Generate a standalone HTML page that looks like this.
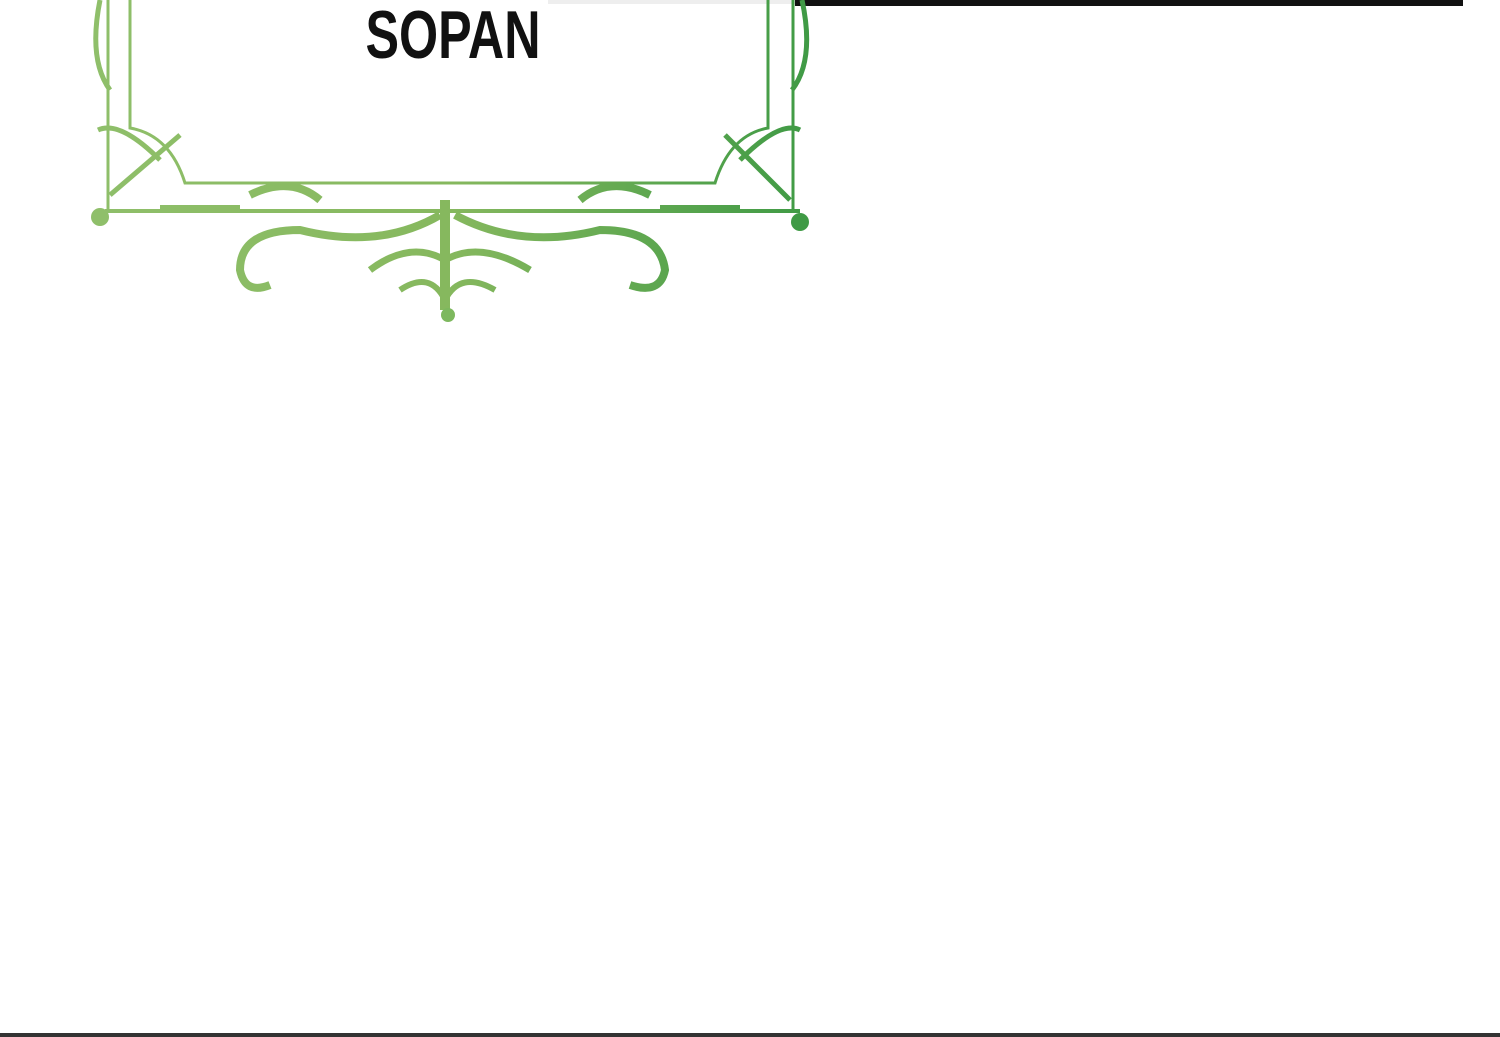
<!DOCTYPE html>
<html><head><meta charset="utf-8"><style>
html,body{margin:0;padding:0;background:#fff;width:1500px;height:1037px;overflow:hidden}
svg{display:block}
</style></head><body>
<svg width="1500" height="1037" viewBox="0 0 1500 1037" xmlns="http://www.w3.org/2000/svg">
<defs>
<linearGradient id="g" gradientUnits="userSpaceOnUse" x1="90" y1="0" x2="810" y2="0">
<stop offset="0" stop-color="#8fbf6a"/><stop offset="0.5" stop-color="#86b85e"/><stop offset="1" stop-color="#3f9a45"/>
</linearGradient>
</defs>
<rect width="1500" height="1037" fill="#fff"/>
<rect x="795" y="0" width="668" height="6" fill="#111"/>
<rect x="548" y="0" width="247" height="4" fill="#eee"/>
<rect x="0" y="1033" width="1500" height="4" fill="#333"/>
<g fill="none" stroke="url(#g)" stroke-width="3">
<path d="M108 0 V210 M793 0 V210"/>
<path d="M130 0 V128 Q170 135 185 183 H715 Q730 135 768 128 V0"/>
<path d="M105 211 H800" stroke-width="4"/>
<path d="M100 0 Q88 60 110 90 M802 0 Q815 60 792 90" stroke-width="5"/>
<path d="M98 130 Q120 120 160 160 M110 195 L180 135 M725 135 L790 200 M800 130 Q780 120 740 160" stroke-width="5"/>
<path d="M440 215 Q380 250 300 230 Q240 230 240 270 Q245 295 270 285" stroke-width="8"/>
<path d="M455 215 Q520 250 600 230 Q660 230 665 270 Q660 295 630 285" stroke-width="8"/>
<path d="M445 200 V310" stroke-width="10"/>
<path d="M370 270 Q410 240 445 260 Q480 240 530 270" stroke-width="7"/>
<path d="M400 290 Q430 270 445 300 Q460 270 495 290" stroke-width="6"/>
<path d="M250 195 Q290 175 320 200 M650 195 Q610 175 580 200" stroke-width="8"/>
<path d="M160 208 H240 M660 208 H740" stroke-width="6"/>
</g>
<circle cx="100" cy="217" r="9" fill="#8fbf6a"/>
<circle cx="800" cy="222" r="9" fill="#3f9a45"/>
<circle cx="448" cy="315" r="7" fill="#7db85e"/>
<text x="453" y="58" text-anchor="middle" font-family="Liberation Sans Narrow, Liberation Sans, sans-serif" font-size="68" font-weight="bold" fill="#111" textLength="175" lengthAdjust="spacingAndGlyphs">SOPAN</text>
</svg>
</body></html>
